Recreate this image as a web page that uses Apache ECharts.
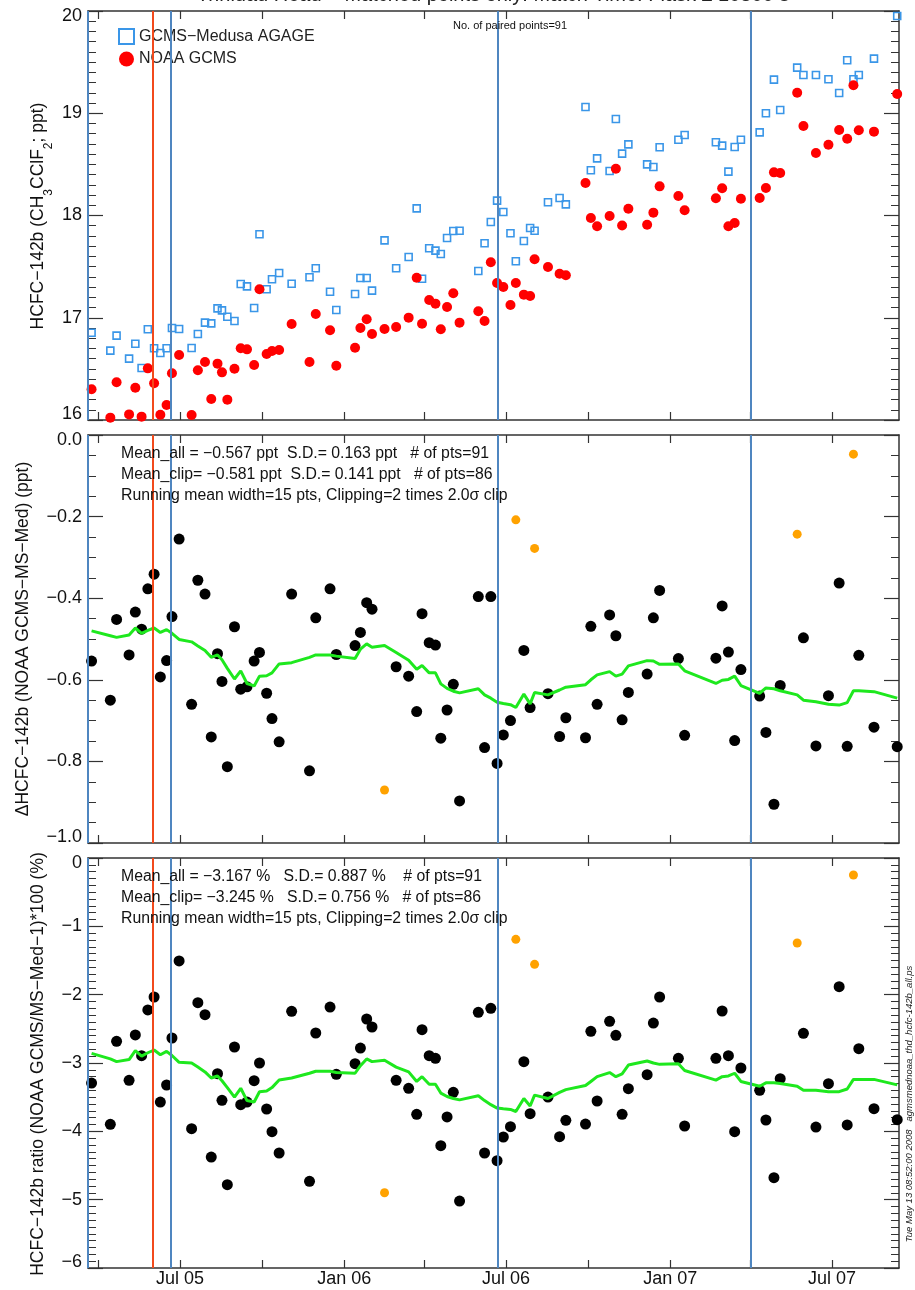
<!DOCTYPE html>
<html><head><meta charset="utf-8">
<script src="https://cdn.jsdelivr.net/npm/echarts@6/dist/echarts.min.js"></script>
<style>html,body{margin:0;padding:0;background:#fff}#c{width:915px;height:1290px}</style>
</head><body><div id="c"></div>
<script>
// ---------------- DATA ----------------
const dates = [
'2005-03-24','2005-04-14','2005-04-21','2005-05-05','2005-05-12','2005-05-19','2005-05-26','2005-06-02','2005-06-09','2005-06-16',
'2005-06-22','2005-06-30','2005-07-14','2005-07-21','2005-07-29','2005-08-05','2005-08-12','2005-08-17','2005-08-23','2005-08-31',
'2005-09-07','2005-09-14','2005-09-22','2005-09-28','2005-10-06','2005-10-12','2005-10-20','2005-11-03','2005-11-23','2005-11-30',
'2005-12-16','2005-12-23','2006-01-13','2006-01-19','2006-01-26','2006-02-01','2006-02-15','2006-02-28','2006-03-14','2006-03-23',
'2006-03-29','2006-04-06','2006-04-13','2006-04-19','2006-04-26','2006-05-03','2006-05-10','2006-05-31','2006-06-07','2006-06-14',
'2006-06-21','2006-06-28','2006-07-06','2006-07-12','2006-07-21','2006-07-28','2006-08-02','2006-08-17','2006-08-30','2006-09-06',
'2006-09-28','2006-10-04','2006-10-11','2006-10-25','2006-11-01','2006-11-08','2006-11-15','2006-12-06','2006-12-13','2006-12-20',
'2007-01-10','2007-01-17','2007-02-21','2007-02-28','2007-03-07','2007-03-14','2007-03-21','2007-04-11','2007-04-18','2007-04-27',
'2007-05-04','2007-05-23','2007-05-30','2007-06-13','2007-06-27','2007-07-09','2007-07-18','2007-07-25','2007-07-31','2007-08-17',
'2007-09-12'];

const medusa = [
16.854,16.678,16.825,16.600,16.746,16.509,16.887,16.701,16.655,16.701,
16.900,16.890,16.704,16.841,16.952,16.945,17.092,17.072,17.010,16.968,
17.330,17.307,17.095,17.816,17.278,17.376,17.438,17.333,17.396,17.484,
17.255,17.076,17.232,17.389,17.389,17.265,17.757,17.484,17.594,18.070,
17.382,17.679,17.656,17.623,17.780,17.848,17.851,17.457,17.728,17.936,
18.145,18.034,17.826,17.552,17.751,17.878,17.851,18.129,18.171,18.109,
19.061,18.442,18.559,18.435,18.944,18.605,18.696,18.500,18.474,18.667,
18.741,18.787,18.716,18.683,18.429,18.670,18.741,18.813,19.000,19.329,
19.032,19.446,19.374,19.374,19.332,19.198,19.518,19.332,19.374,19.534,
19.951];

const noaa = [
16.300,16.023,16.369,16.055,16.316,16.033,16.505,16.359,16.052,16.147,
16.457,16.636,16.049,16.486,16.567,16.205,16.551,16.466,16.199,16.502,
16.701,16.691,16.538,17.278,16.645,16.675,16.685,16.939,16.567,17.037,
16.877,16.531,16.707,16.900,16.985,16.841,16.890,16.910,17.001,17.392,
16.942,17.174,17.138,16.887,17.105,17.239,16.952,17.063,16.968,17.542,
17.340,17.301,17.125,17.340,17.226,17.213,17.572,17.496,17.431,17.415,
18.318,17.976,17.894,17.995,18.458,17.903,18.066,17.910,18.028,18.285,
18.191,18.051,18.168,18.266,17.894,17.927,18.164,18.171,18.269,18.422,
18.416,19.201,18.875,18.611,18.692,18.836,18.751,19.273,18.833,18.820,
19.188];

const diff = [
-0.554,-0.650,-0.452,-0.539,-0.434,-0.476,-0.377,-0.341,-0.593,-0.553,
-0.445,-0.255,-0.660,-0.356,-0.390,-0.740,-0.536,-0.604,-0.813,-0.470,
-0.623,-0.617,-0.554,-0.533,-0.633,-0.695,-0.752,-0.390,-0.823,-0.448,
-0.377,-0.538,-0.516,-0.484,-0.411,-0.427,-0.870,-0.568,-0.591,-0.678,
-0.438,-0.509,-0.515,-0.743,-0.674,-0.611,-0.897,-0.396,-0.766,-0.396,
-0.805,-0.735,-0.700,-0.208,-0.528,-0.668,-0.278,-0.634,-0.739,-0.693,
-0.742,-0.469,-0.660,-0.441,-0.492,-0.698,-0.631,-0.586,-0.448,-0.381,
-0.548,-0.736,-0.547,-0.419,-0.532,-0.749,-0.575,-0.640,-0.729,-0.905,
-0.614,-0.243,-0.497,-0.762,-0.639,-0.363,-0.763,-0.047,-0.540,-0.716,
-0.764];

const ratio = [
-3.293,-3.898,-2.683,-3.254,-2.590,-2.893,-2.224,-2.034,-3.571,-3.322,
-2.634,-1.507,-3.961,-2.117,-2.293,-4.376,-3.156,-3.546,-4.781,-2.766,
-3.610,-3.571,-3.259,-3.000,-3.673,-4.005,-4.317,-2.244,-4.732,-2.561,
-2.181,-3.166,-3.010,-2.781,-2.356,-2.473,-4.898,-3.254,-3.371,-3.751,
-2.512,-2.893,-2.932,-4.210,-3.790,-3.429,-5.020,-2.259,-4.317,-2.200,
-4.429,-4.083,-3.932,-1.190,-2.981,-3.742,-1.556,-3.498,-4.078,-3.839,
-3.893,-2.537,-3.556,-2.390,-2.595,-3.751,-3.376,-3.171,-2.415,-2.034,
-2.932,-3.922,-2.932,-2.239,-2.893,-4.005,-3.073,-3.400,-3.834,-4.678,
-3.229,-1.244,-2.566,-3.937,-3.303,-1.883,-3.907,-0.249,-2.790,-3.668,
-3.829];

const runMeanDiff = [
-0.480,-0.492,-0.496,-0.490,-0.473,-0.486,-0.479,-0.473,-0.484,-0.477,
-0.486,-0.501,-0.507,-0.517,-0.528,-0.545,-0.539,-0.551,-0.572,-0.598,
-0.578,-0.609,-0.615,-0.591,-0.590,-0.583,-0.561,-0.558,-0.545,-0.539,
-0.539,-0.542,-0.548,-0.525,-0.512,-0.520,-0.516,-0.533,-0.552,-0.574,
-0.565,-0.583,-0.583,-0.610,-0.621,-0.628,-0.632,-0.622,-0.637,-0.645,
-0.655,-0.658,-0.661,-0.668,-0.635,-0.659,-0.631,-0.637,-0.625,-0.618,
-0.612,-0.600,-0.588,-0.580,-0.591,-0.586,-0.566,-0.553,-0.554,-0.562,
-0.561,-0.578,-0.609,-0.601,-0.599,-0.591,-0.614,-0.633,-0.620,-0.622,
-0.627,-0.637,-0.650,-0.654,-0.660,-0.662,-0.656,-0.627,-0.627,-0.629,
-0.645];

const runMeanRatio = [
-2.86,-2.94,-2.98,-2.95,-2.82,-2.90,-2.85,-2.81,-2.88,-2.83,
-2.89,-2.99,-3.00,-3.06,-3.13,-3.22,-3.19,-3.26,-3.36,-3.50,
-3.37,-3.55,-3.57,-3.42,-3.41,-3.36,-3.25,-3.22,-3.15,-3.12,
-3.12,-3.14,-3.15,-3.04,-2.94,-2.98,-2.96,-3.06,-3.13,-3.27,
-3.20,-3.31,-3.31,-3.44,-3.49,-3.52,-3.54,-3.48,-3.55,-3.61,
-3.66,-3.67,-3.68,-3.71,-3.52,-3.63,-3.47,-3.52,-3.43,-3.39,
-3.33,-3.27,-3.20,-3.14,-3.20,-3.16,-3.03,-2.97,-3.00,-3.02,
-3.01,-3.11,-3.25,-3.20,-3.19,-3.15,-3.27,-3.34,-3.29,-3.29,
-3.30,-3.34,-3.40,-3.40,-3.42,-3.42,-3.38,-3.24,-3.24,-3.24,
-3.32];

const clippedIdx = [36, 53, 56, 81, 87];

const blueLineDates = ['2005-03-20', '2005-06-21', '2006-06-22', '2007-04-01'];
const orangeLineDates = ['2005-06-01'];

const xMin = '2005-03-20', xMax = '2007-09-14';
const xTickDates = ['2005-04-01','2005-07-01','2005-10-01','2006-01-01','2006-04-01','2006-07-01','2006-10-01','2007-01-01','2007-04-01','2007-07-01'];
const xLabelDates = ['2005-07-01','2006-01-01','2006-07-01','2007-01-01','2007-07-01'];
const xLabels = ['Jul 05','Jan 06','Jul 06','Jan 07','Jul 07'];

const titleText = 'Trinidad Head − Matched points only: Match Time: Flask ± 10800 s';
const legendNames = ['GCMS−Medusa AGAGE', 'NOAA GCMS'];
const pairedText = 'No. of paired points=91';
const stats2 = ['Mean_all = −0.567 ppt  S.D.= 0.163 ppt   # of pts=91',
                'Mean_clip= −0.581 ppt  S.D.= 0.141 ppt   # of pts=86',
                'Running mean width=15 pts, Clipping=2 times 2.0σ clip'];
const stats3 = ['Mean_all = −3.167 %   S.D.= 0.887 %    # of pts=91',
                'Mean_clip= −3.245 %   S.D.= 0.756 %   # of pts=86',
                'Running mean width=15 pts, Clipping=2 times 2.0σ clip'];
const stampText = 'Tue May 13 08:52:00 2008   agmsmednoaa_thd_hcfc-142b_all.ps';

// ---------------- BUILD ----------------
const FONT = '"Liberation Sans", Arial, Helvetica, sans-serif';
const ts = s => echarts.number.parseDate(s).getTime();
const tickTs = xTickDates.map(ts);
const labelTs = xLabelDates.map(ts);
const pairs = arr => dates.map((d, i) => [ts(d), arr[i]]);
const pick = (arr, keepClipped) => dates.map((d, i) => [ts(d), arr[i], i])
  .filter(p => clippedIdx.includes(p[2]) === keepClipped).map(p => [p[0], p[1]]);

const gridTops = [11, 435, 858];
const gridHeights = [409, 408, 410];
const grids = gridTops.map((t, i) => ({left: 88, width: 811, top: t, height: gridHeights[i], containLabel: false}));

const AX = '#333';
function xAxisFor(g, pos, showLabels) {
  return {
    type: 'value', gridIndex: g, position: pos, min: ts(xMin), max: ts(xMax), scale: true,
    axisLine: {show: true, onZero: false, lineStyle: {color: AX, width: 1.5}},
    axisTick: {show: true, inside: true, length: 8, lineStyle: {color: AX, width: 1.2}, customValues: tickTs},
    axisLabel: {show: showLabels, customValues: labelTs, fontSize: 18, fontFamily: FONT, color: '#111', margin: 2,
      formatter: v => { const k = labelTs.findIndex(t => Math.abs(t - v) < 86400000 * 2); return k >= 0 ? xLabels[k] : ''; }},
    splitLine: {show: false}, minorSplitLine: {show: false}
  };
}
function edgeFmt(minV, maxV, fmt) {
  return v => {
    const s = fmt(v);
    if (Math.abs(v - maxV) < 1e-9) return '{t|' + s + '}';
    if (Math.abs(v - minV) < 1e-9) return '{b|' + s + '}';
    return '{n|' + s + '}';
  };
}
const labRich = {
  t: {fontSize: 18, fontFamily: FONT, color: '#111', padding: [10, 0, 0, 0]},
  b: {fontSize: 18, fontFamily: FONT, color: '#111', padding: [0, 0, 11, 0]},
  n: {fontSize: 18, fontFamily: FONT, color: '#111'}
};
function yAxisFor(g, pos, min, max, interval, minorSplit, fmt, showLabels) {
  return {
    type: 'value', gridIndex: g, position: pos, min, max, interval,
    axisLine: {show: true, onZero: false, lineStyle: {color: AX, width: 1.5}},
    axisTick: {show: true, inside: true, length: 15, lineStyle: {color: AX, width: 1.2}},
    minorTick: {show: true, splitNumber: minorSplit, length: 8, lineStyle: {color: AX, width: 1}},
    axisLabel: {show: showLabels, margin: 6, formatter: edgeFmt(min, max, fmt), rich: labRich},
    splitLine: {show: false}, minorSplitLine: {show: false}
  };
}
const minus = s => s.replace('-', '−');
const fmt0 = v => minus(String(Math.round(v)));
const fmt1 = v => minus((Math.abs(v) < 1e-9 ? 0 : v).toFixed(1));

const xAxes = [], yAxes = [];
[0, 1, 2].forEach(g => {
  xAxes.push(xAxisFor(g, 'bottom', g === 2));
  xAxes.push(xAxisFor(g, 'top', false));
});
yAxes.push(yAxisFor(0, 'left', 16, 20, 1, 10, fmt0, true));
yAxes.push(yAxisFor(0, 'right', 16, 20, 1, 10, fmt0, false));
yAxes.push(yAxisFor(1, 'left', -1, 0, 0.2, 4, fmt1, true));
yAxes.push(yAxisFor(1, 'right', -1, 0, 0.2, 4, fmt1, false));
yAxes.push(yAxisFor(2, 'left', -6, 0, 1, 10, fmt0, true));
yAxes.push(yAxisFor(2, 'right', -6, 0, 1, 10, fmt0, false));

const BLUE_LINE = '#4f86c0', ORANGE_LINE = '#f24a1c';
function vlineSeries(g) {
  return {
    type: 'scatter', name: 'vlines' + g, xAxisIndex: g * 2, yAxisIndex: g * 2, data: [], z: 1, silent: true,
    markLine: {
      symbol: ['none', 'none'], silent: true, animation: false, label: {show: false},
      data: blueLineDates.map(d => ({xAxis: ts(d), lineStyle: {color: BLUE_LINE, width: 2, type: 'solid'}}))
        .concat(orangeLineDates.map(d => ({xAxis: ts(d), lineStyle: {color: ORANGE_LINE, width: 2, type: 'solid'}})))
    }
  };
}

const series = [
  vlineSeries(0), vlineSeries(1), vlineSeries(2),
  {type: 'scatter', name: legendNames[0], xAxisIndex: 0, yAxisIndex: 0, data: pairs(medusa), z: 3,
    symbol: 'rect', symbolSize: 7, itemStyle: {color: 'rgba(0,0,0,0)', borderColor: '#3a96e8', borderWidth: 1.6, opacity: 1}},
  {type: 'scatter', name: legendNames[1], xAxisIndex: 0, yAxisIndex: 0, data: pairs(noaa), z: 3,
    symbol: 'circle', symbolSize: 10, itemStyle: {color: '#ff0000', opacity: 1}},
  {type: 'scatter', name: 'diff', xAxisIndex: 2, yAxisIndex: 2, data: pick(diff, false), z: 3,
    symbol: 'circle', symbolSize: 11, itemStyle: {color: '#000', opacity: 1}},
  {type: 'scatter', name: 'diffClip', xAxisIndex: 2, yAxisIndex: 2, data: pick(diff, true), z: 3,
    symbol: 'circle', symbolSize: 9, itemStyle: {color: '#ffa200', opacity: 1}},
  {type: 'line', name: 'runDiff', xAxisIndex: 2, yAxisIndex: 2, data: pairs(runMeanDiff), z: 4,
    showSymbol: false, symbol: 'none', lineStyle: {color: '#1ee81e', width: 3}},
  {type: 'scatter', name: 'ratio', xAxisIndex: 4, yAxisIndex: 4, data: pick(ratio, false), z: 3,
    symbol: 'circle', symbolSize: 11, itemStyle: {color: '#000', opacity: 1}},
  {type: 'scatter', name: 'ratioClip', xAxisIndex: 4, yAxisIndex: 4, data: pick(ratio, true), z: 3,
    symbol: 'circle', symbolSize: 9, itemStyle: {color: '#ffa200', opacity: 1}},
  {type: 'line', name: 'runRatio', xAxisIndex: 4, yAxisIndex: 4, data: pairs(runMeanRatio), z: 4,
    showSymbol: false, symbol: 'none', lineStyle: {color: '#1ee81e', width: 3}}
];

function txt(x, y, text, font, extra) {
  return Object.assign({type: 'text', x, y, silent: true, z: 10,
    style: Object.assign({text, font, fill: '#111', textAlign: 'left', textVerticalAlign: 'middle', align: 'left', verticalAlign: 'middle'}, extra || {})});
}
const mainF = 'normal 17.5px ' + FONT;
const subF = 'normal 12px ' + FONT;
function yTitle(x, y, rt, rich) {
  return {type: 'text', x, y, rotation: Math.PI / 2, silent: true, z: 10,
    style: {text: rt, rich, textAlign: 'center', textVerticalAlign: 'middle', align: 'center', verticalAlign: 'middle', fill: '#111', font: mainF}};
}
const richSub = {
  a: {font: mainF, fill: '#111', color: '#111', fontSize: 17.5, fontFamily: FONT, lineHeight: 26, verticalAlign: 'top'},
  s: {font: subF, fill: '#111', color: '#111', fontSize: 12, fontFamily: FONT, lineHeight: 12, verticalAlign: 'bottom'}
};
const statF = 'normal 15.8px ' + FONT;

const graphics = [
  txt(493, 5, titleText, 'normal 20px ' + FONT, {textAlign: 'center', align: 'center', textVerticalAlign: 'bottom', verticalAlign: 'bottom', fill: '#222'}),
  txt(453, 26, pairedText, 'normal 11px ' + FONT),
  ...stats2.map((s, i) => txt(121, 454 + i * 21, s, statF)),
  ...stats3.map((s, i) => txt(121, 877 + i * 21, s, statF)),
  yTitle(42, 216, '{a|HCFC−142b (CH}{s|3}{a|CClF}{s|2}{a|; ppt)}', richSub),
  yTitle(27, 639, '{a|ΔHCFC−142b (NOAA GCMS−MS−Med) (ppt)}', richSub),
  yTitle(42, 1064, '{a|HCFC−142b ratio (NOAA GCMS/MS−Med−1)*100 (%)}', richSub),
  {type: 'text', x: 909, y: 1104, rotation: Math.PI / 2, silent: true, z: 10,
    style: {text: stampText, font: 'italic 9.5px ' + FONT, fill: '#222', textAlign: 'center', textVerticalAlign: 'middle', align: 'center', verticalAlign: 'middle'}}
];

const chart = echarts.init(document.getElementById('c'), null, {renderer: 'canvas'});
chart.setOption({
  animation: false,
  backgroundColor: '#fff',
  textStyle: {fontFamily: FONT},
  grid: grids,
  xAxis: xAxes,
  yAxis: yAxes,
  legend: {
    left: 113, top: 23, orient: 'vertical', itemGap: 6, itemWidth: 15, itemHeight: 15, selectedMode: false,
    textStyle: {fontSize: 16, fontFamily: FONT, color: '#222'},
    data: [
      {name: legendNames[0], icon: 'rect', itemStyle: {color: 'rgba(0,0,0,0)', borderColor: '#3a96e8', borderWidth: 2}},
      {name: legendNames[1], icon: 'circle', itemStyle: {color: '#ff0000', borderWidth: 0}}
    ]
  },
  graphic: graphics,
  series
});
</script>
</body></html>
